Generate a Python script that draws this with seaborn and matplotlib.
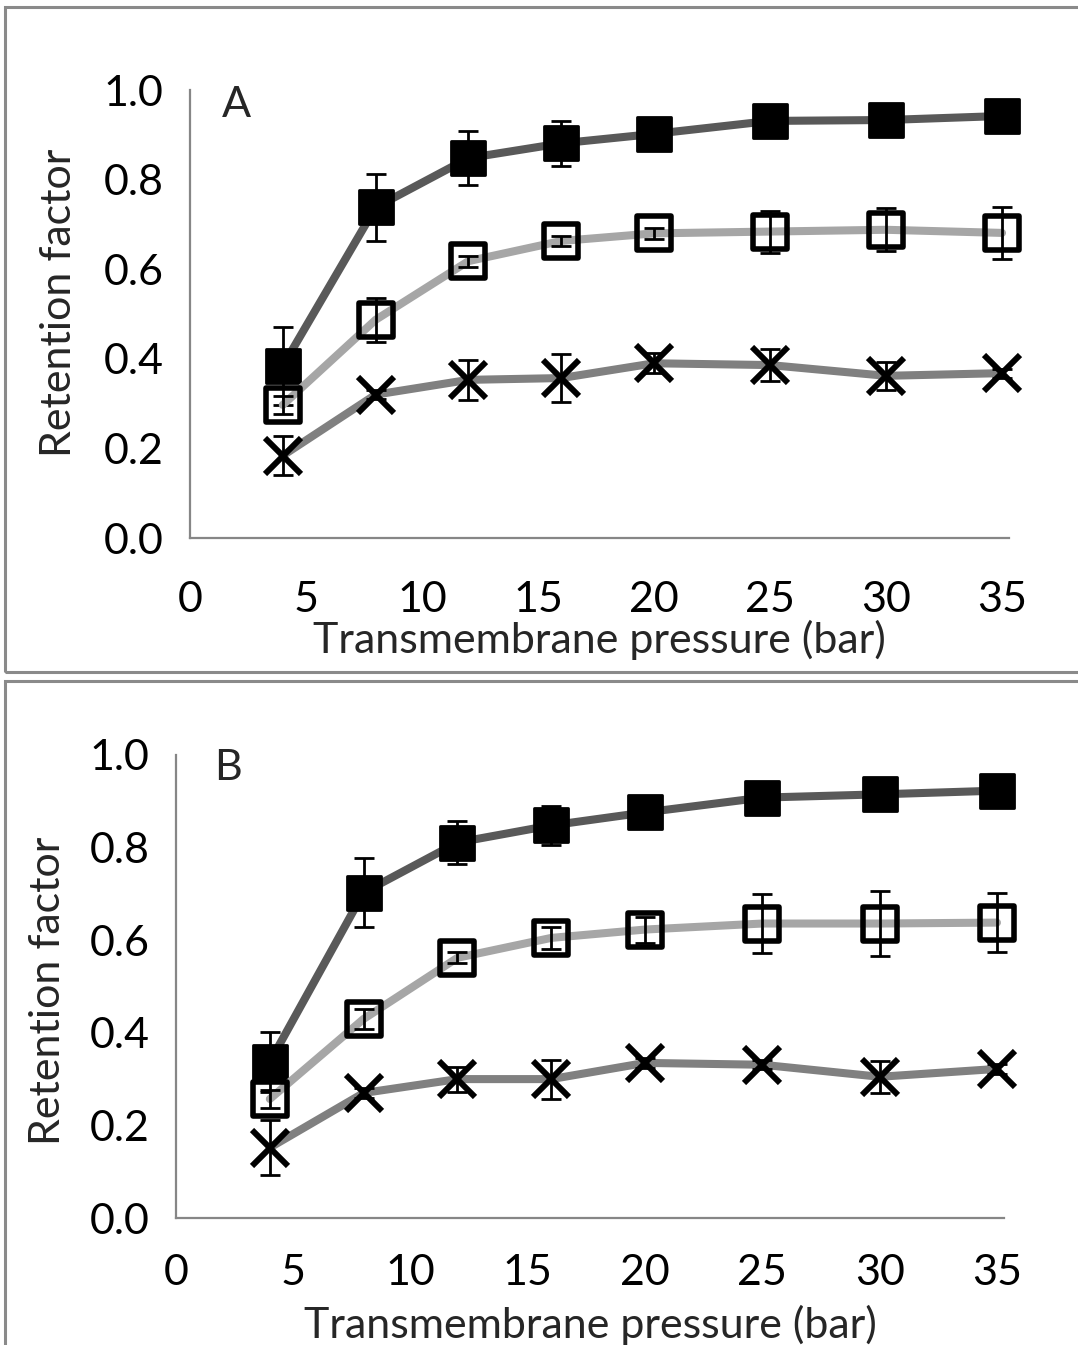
import matplotlib
matplotlib.use("Agg")
import matplotlib.pyplot as plt
from matplotlib.markers import MarkerStyle
from matplotlib.patches import Rectangle
from matplotlib.ticker import FormatStrFormatter
import seaborn as sns
import pandas as pd

# ---------------- data ----------------
pressure = [4, 8, 12, 16, 20, 25, 30, 35]

filled_A = [0.384, 0.738, 0.848, 0.881, 0.902, 0.931, 0.933, 0.942]
filled_A_err = [0.087, 0.075, 0.060, 0.050, 0.020, 0.015, 0.015, 0.015]
open_A = [0.297, 0.487, 0.618, 0.663, 0.680, 0.684, 0.688, 0.681]
open_A_err = [0.020, 0.049, 0.012, 0.012, 0.012, 0.047, 0.048, 0.058]
cross_A = [0.184, 0.320, 0.353, 0.357, 0.390, 0.386, 0.362, 0.368]
cross_A_err = [0.043, 0.010, 0.044, 0.053, 0.022, 0.035, 0.031, 0.010]

filled_B = [0.337, 0.703, 0.811, 0.848, 0.876, 0.908, 0.915, 0.923]
filled_B_err = [0.065, 0.075, 0.046, 0.042, 0.015, 0.012, 0.012, 0.012]
open_B = [0.257, 0.430, 0.562, 0.605, 0.623, 0.636, 0.636, 0.638]
open_B_err = [0.020, 0.022, 0.012, 0.024, 0.028, 0.063, 0.070, 0.064]
cross_B = [0.152, 0.270, 0.300, 0.300, 0.335, 0.331, 0.305, 0.322]
cross_B_err = [0.060, 0.010, 0.027, 0.042, 0.010, 0.010, 0.034, 0.010]

panel_labels = ["A", "B"]
y_ticks = [0.0, 0.2, 0.4, 0.6, 0.8, 1.0]
x_ticks = [0, 5, 10, 15, 20, 25, 30, 35]
x_label = "Transmembrane pressure (bar)"
y_label = "Retention factor"

# ---------------- style ----------------
sns.set_style("white")
plt.rcParams["font.family"] = ["Lato", "DejaVu Sans"]

FS = 31
AXIS_COL = "#868686"
LINE_DARK = "#595959"
LINE_LIGHT = "#a6a6a6"
LINE_MID = "#808080"

fig = plt.figure(figsize=(10.78, 13.45), dpi=100)
W, H = 1078.0, 1345.0

# panel frames
fig.patches.append(Rectangle((5 / W, 1 - 672 / H), 1.2, (672 - 7) / H,
                             transform=fig.transFigure, fill=False,
                             edgecolor="#8a8a8a", linewidth=2.2, zorder=0))
fig.patches.append(Rectangle((5 / W, -0.1), 1.2, 0.1 + (1345 - 681) / H,
                             transform=fig.transFigure, fill=False,
                             edgecolor="#8a8a8a", linewidth=2.2, zorder=0))

axA = fig.add_axes([190 / W, 1 - 538 / H, 819 / W, 448 / H])
axB = fig.add_axes([176 / W, 1 - 1218 / H, 828 / W, 463 / H])

sq = MarkerStyle("s", joinstyle="round")
xm = MarkerStyle("x", capstyle="butt")

panels = [
    (axA, filled_A, filled_A_err, open_A, open_A_err, cross_A, cross_A_err,
     panel_labels[0], (0.039, 0.967), (-0.16, 0.525), (0.50, -0.228), 22),
    (axB, filled_B, filled_B_err, open_B, open_B_err, cross_B, cross_B_err,
     panel_labels[1], (0.046, 0.972), (-0.155, 0.49), (0.501, -0.231), 17),
]

for (ax, f, fe, o, oe, c, ce, lab, lab_pos, ylab_pos, xlab_pos, xpad) in panels:
    df = pd.DataFrame({"p": pressure, "filled": f, "open": o, "cross": c})
    series = [
        ("filled", fe, LINE_DARK, dict(marker=sq, markersize=24.5, mfc="black",
                                        mec="black", mew=2.0)),
        ("open", oe, LINE_LIGHT, dict(marker=sq, markersize=24, mfc="none",
                                       mec="black", mew=4.0)),
        ("cross", ce, LINE_MID, dict(marker=xm, markersize=26, mfc="black",
                                      mec="black", mew=4.3)),
    ]
    z = 2
    for name, err, lc, mk in series:
        sns.lineplot(data=df, x="p", y=name, ax=ax, color=lc, linewidth=5.8,
                     solid_capstyle="round", zorder=z, legend=False,
                     clip_on=False)
        eb = ax.errorbar(df["p"], df[name], yerr=err, fmt="none",
                         ecolor="black", elinewidth=2.0, capsize=7.5,
                         capthick=2.0, zorder=z + 0.1)
        for art in eb.lines[1]:
            art.set_clip_on(False)
        for art in eb.lines[2]:
            art.set_clip_on(False)
        sns.lineplot(data=df, x="p", y=name, ax=ax, linestyle="none",
                     zorder=z + 0.2, legend=False, clip_on=False, **mk)
        z += 1

    ax.set_xlim(0, 35.3)
    ax.set_ylim(0, 1.0)
    ax.set_xticks(x_ticks)
    ax.set_yticks(y_ticks)
    ax.yaxis.set_major_formatter(FormatStrFormatter("%.1f"))
    for s in ["top", "right"]:
        ax.spines[s].set_visible(False)
    for s in ["left", "bottom"]:
        ax.spines[s].set_color(AXIS_COL)
        ax.spines[s].set_linewidth(1.6)
    ax.tick_params(axis="both", direction="out", length=9, width=1.6,
                   color=AXIS_COL, labelsize=FS, labelcolor="black")
    ax.tick_params(axis="y", pad=10)
    ax.tick_params(axis="x", pad=xpad)
    ax.set_xlabel(x_label, fontsize=FS)
    ax.set_ylabel(y_label, fontsize=FS)
    ax.xaxis.set_label_coords(*xlab_pos)
    ax.yaxis.set_label_coords(*ylab_pos)
    ax.xaxis.label.set_va("center")
    ax.yaxis.label.set_va("center")
    ax.text(lab_pos[0], lab_pos[1], lab, transform=ax.transAxes, fontsize=FS,
            ha="left", va="center")
    ax.set_facecolor("none")
    ax.patch.set_alpha(0)

fig.savefig("out.png", dpi=100, facecolor="white")
